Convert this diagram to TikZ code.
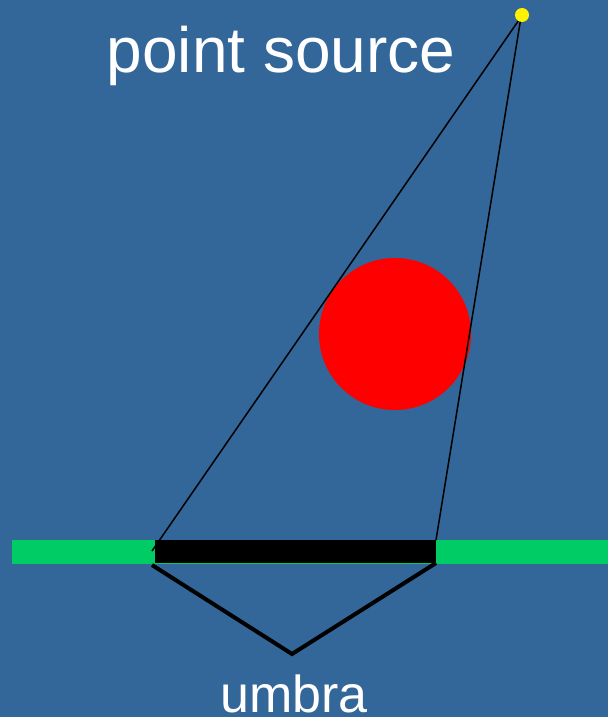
\documentclass[tikz,border=0pt]{standalone}
\usepackage{fontspec}
\setmainfont{Liberation Sans}
\definecolor{bg}{HTML}{336699}
\definecolor{grn}{HTML}{00CC66}
\begin{document}
\begin{tikzpicture}[x=1pt,y=-1pt,
  ray/.style={draw=black,line width=1.5pt},
  umb/.style={draw=black,line width=4pt},
  lbl/.style={text=white,inner sep=0pt}]
\fill[bg] (0,0) rectangle (608,717);
\useasboundingbox (0,0) rectangle (608,717);
\fill[grn] (12,540) rectangle (608,564);
\fill[black] (155,540) rectangle (436,563);
\fill[red] (395,334) circle (76);
\coordinate (src) at (521,17);
\coordinate (le) at (152,551);
\coordinate (re) at (436,540);
\draw[ray] (src) -- (le);
\draw[ray] (src) -- (re);
\fill[yellow] (522,15) circle (7);
\coordinate (ul) at (152,565);
\coordinate (ub) at (292,654);
\coordinate (ur) at (436,563);
\draw[umb] (ul) -- (ub) -- (ur);
\node[lbl,font=\fontsize{64}{72}\selectfont,anchor=base] (ps) at (281,73) {point source};
\node[lbl,font=\fontsize{52}{60}\selectfont,anchor=base] (um) at (294,712) {umbra};
\end{tikzpicture}
\end{document}
